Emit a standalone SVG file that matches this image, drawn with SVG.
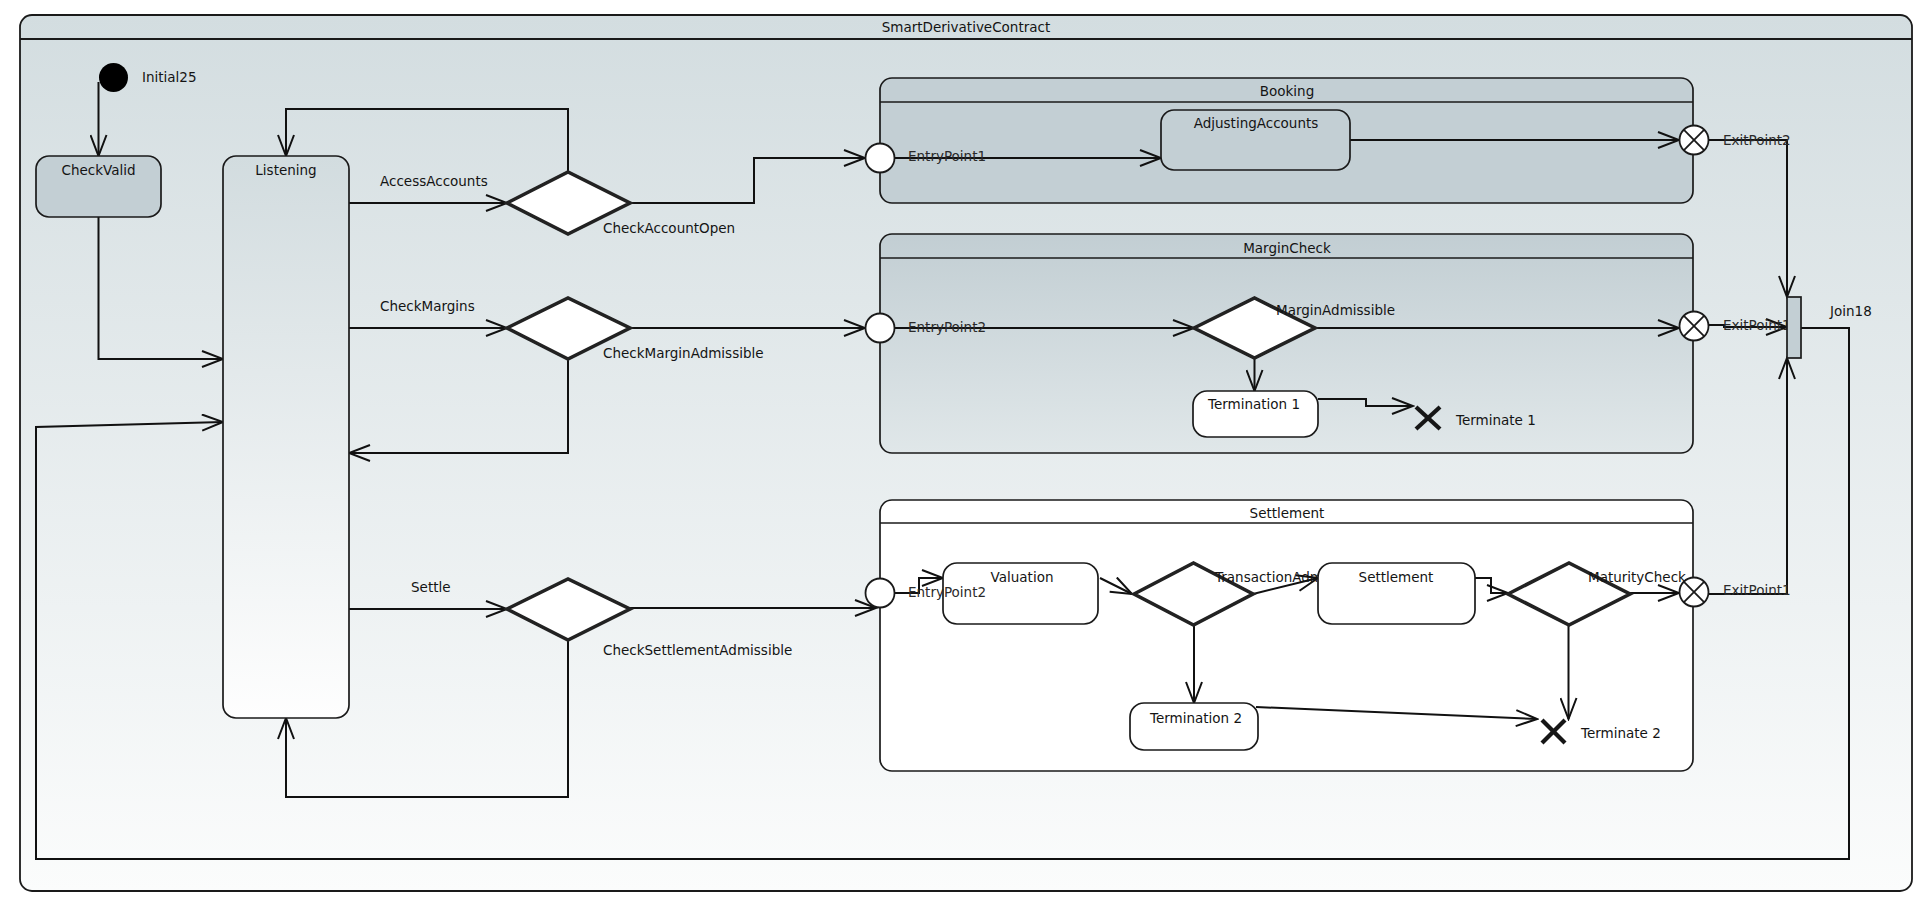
<svg xmlns="http://www.w3.org/2000/svg" width="1930" height="921" viewBox="0 0 1930 921">
  <defs>
    <style>
      text { font-family: "DejaVu Sans", "Liberation Sans", sans-serif; font-size: 13.5px; fill: #141414; }
      .mid { text-anchor: middle; }
      .port { fill: #2a2a2a; }
      .frame { stroke: #1a1a1a; stroke-width: 1.8; }
      .state { stroke: #1a1a1a; stroke-width: 1.7; }
      .blue { fill: #c3cfd4; }
      .white { fill: #ffffff; }
      .choice { fill: #ffffff; stroke: #202020; stroke-width: 3.6; stroke-linejoin: miter; filter: url(#soft); }
      .pt { fill: #ffffff; stroke: #1a1a1a; stroke-width: 1.8; }
      .cross { stroke: #1a1a1a; stroke-width: 1.8; }
      .kill { stroke: #151515; stroke-width: 4.2; filter: url(#soft); }
      .edge { fill: none; stroke: #111111; stroke-width: 2; marker-end: url(#arr); }
    </style>
    <linearGradient id="bgGrad" x1="0" y1="0" x2="0" y2="1">
      <stop offset="0" stop-color="#d3dde0"/>
      <stop offset="1" stop-color="#fbfcfc"/>
    </linearGradient>
    <linearGradient id="listenGrad" x1="0" y1="0" x2="0" y2="1">
      <stop offset="0" stop-color="#d2dcdf"/>
      <stop offset="1" stop-color="#fefefe"/>
    </linearGradient>
    <linearGradient id="marginGrad" x1="0" y1="0" x2="0" y2="1">
      <stop offset="0" stop-color="#c2ced3"/>
      <stop offset="1" stop-color="#e0e7e9"/>
    </linearGradient>
    <filter id="soft" x="-10%" y="-10%" width="120%" height="120%">
      <feGaussianBlur stdDeviation="0.6"/>
    </filter>
    <marker id="arr" viewBox="0 0 24 18" refX="22" refY="9" markerWidth="24" markerHeight="18" orient="auto" markerUnits="userSpaceOnUse">
      <path d="M1,1 L22,9 L1,17" fill="none" stroke="#111111" stroke-width="2"/>
    </marker>
  </defs>

  <!-- outer state machine frame -->
  <g id="SmartDerivativeContract">
    <rect class="frame" x="20" y="15" width="1892" height="876" rx="12" fill="url(#bgGrad)"/>
    <line class="frame" x1="20" y1="39" x2="1912" y2="39"/>
    <text class="mid" x="966" y="32">SmartDerivativeContract</text>
  </g>

  <!-- composite state backgrounds -->
  <g id="Booking">
    <rect class="state blue" x="880" y="78" width="813" height="125" rx="12"/>
    <line class="state" x1="880" y1="102" x2="1693" y2="102"/>
    <text class="mid" x="1287" y="96">Booking</text>
  </g>
  <g id="MarginCheck">
    <rect class="state" x="880" y="234" width="813" height="219" rx="12" fill="url(#marginGrad)"/>
    <line class="state" x1="880" y1="258" x2="1693" y2="258"/>
    <text class="mid" x="1287" y="253">MarginCheck</text>
  </g>
  <g id="Settlement">
    <rect class="state white" x="880" y="500" width="813" height="271" rx="12"/>
    <line class="state" x1="880" y1="523" x2="1693" y2="523"/>
    <text class="mid" x="1287" y="518">Settlement</text>
  </g>

  <!-- transitions -->
  <g id="connectors">
    <path class="edge" d="M98.5,82 V156"/>
    <path class="edge" d="M98.5,217 V359 H223"/>
    <path class="edge" d="M349,203 H507"/>
    <path class="edge" d="M568,172 V109 H286 V156"/>
    <path class="edge" d="M630,203 H754 V158 H865"/>
    <path class="edge" d="M349,328 H507"/>
    <path class="edge" d="M568,359 V453 H349"/>
    <path class="edge" d="M630,328 H865"/>
    <path class="edge" d="M349,609 H507"/>
    <path class="edge" d="M568,640 V797 H286 V718"/>
    <path class="edge" d="M630,608 H876"/>
    <path class="edge" d="M895,158 H1161"/>
    <path class="edge" d="M1350,140 H1679"/>
    <path class="edge" d="M1709,140 H1787 V297"/>
    <path class="edge" d="M895,328 H1194"/>
    <path class="edge" d="M1315,328 H1679"/>
    <path class="edge" d="M1709,325 H1724 V327 H1787"/>
    <path class="edge" d="M1254.5,358 V391"/>
    <path class="edge" d="M1318,399 H1366 V406 H1413"/>
    <path class="edge" d="M895,593 H919 V578 H943"/>
    <path class="edge" d="M1100,578 L1132,594"/>
    <path class="edge" d="M1253,594 L1318,578"/>
    <path class="edge" d="M1475,578 H1491 V593 H1508"/>
    <path class="edge" d="M1630,593 H1679"/>
    <path class="edge" d="M1709,594 H1787 V358"/>
    <path class="edge" d="M1194,625 V703"/>
    <path class="edge" d="M1568.5,625 V719"/>
    <path class="edge" d="M1256,707 L1537,719"/>
    <path class="edge" d="M1801,328 H1849 V859 H36 V427 L223,422"/>
  </g>

  <!-- top level nodes -->
  <g id="Initial25">
    <circle cx="113.5" cy="77.5" r="14.5" fill="#000000"/>
    <text x="142" y="82">Initial25</text>
  </g>
  <g id="CheckValid">
    <rect class="state blue" x="36" y="156" width="125" height="61" rx="13"/>
    <text class="mid" x="98.5" y="175">CheckValid</text>
  </g>
  <g id="Listening">
    <rect class="state" x="223" y="156" width="126" height="562" rx="13" fill="url(#listenGrad)"/>
    <text class="mid" x="286" y="175">Listening</text>
  </g>
  <g id="CheckAccountOpen">
    <polygon class="choice" points="507,203 568,172 630,203 568,234"/>
    <text x="603" y="233">CheckAccountOpen</text>
  </g>
  <g id="CheckMarginAdmissible">
    <polygon class="choice" points="507,328 568,298 630,328 568,359"/>
    <text x="603" y="358">CheckMarginAdmissible</text>
  </g>
  <g id="CheckSettlementAdmissible">
    <polygon class="choice" points="507,609 568,579 630,609 568,640"/>
    <text x="603" y="655">CheckSettlementAdmissible</text>
  </g>
  <g id="transitionLabels">
    <text x="380" y="186">AccessAccounts</text>
    <text x="380" y="311">CheckMargins</text>
    <text x="411" y="592">Settle</text>
  </g>

  <!-- Booking contents -->
  <g id="EntryPoint1">
    <circle class="pt" cx="880" cy="158" r="14.5"/>
    <text class="port" x="908" y="161">EntryPoint1</text>
  </g>
  <g id="AdjustingAccounts">
    <rect class="state blue" x="1161" y="110" width="189" height="60" rx="13"/>
    <text class="mid" x="1256" y="128">AdjustingAccounts</text>
  </g>
  <g id="ExitPoint2">
    <circle class="pt" cx="1694" cy="140" r="14.5"/>
    <line class="cross" x1="1683.7" y1="129.7" x2="1704.3" y2="150.3"/>
    <line class="cross" x1="1704.3" y1="129.7" x2="1683.7" y2="150.3"/>
    <text class="port" x="1723" y="145">ExitPoint2</text>
  </g>

  <!-- MarginCheck contents -->
  <g id="MarginCheck_EntryPoint2">
    <circle class="pt" cx="880" cy="328" r="14.5"/>
    <text class="port" x="908" y="332">EntryPoint2</text>
  </g>
  <g id="MarginAdmissible">
    <polygon class="choice" points="1194,328 1254.5,298 1315,328 1254.5,358"/>
    <text x="1276" y="315">MarginAdmissible</text>
  </g>
  <g id="Termination1">
    <rect class="state white" x="1193" y="391" width="125" height="46" rx="14"/>
    <text class="mid" x="1254" y="409">Termination 1</text>
  </g>
  <g id="Terminate1">
    <line class="kill" x1="1416" y1="407" x2="1440" y2="429"/>
    <line class="kill" x1="1440" y1="407" x2="1416" y2="429"/>
    <text x="1456" y="425">Terminate 1</text>
  </g>
  <g id="MarginCheck_ExitPoint1">
    <circle class="pt" cx="1694" cy="326" r="14.5"/>
    <line class="cross" x1="1683.7" y1="315.7" x2="1704.3" y2="336.3"/>
    <line class="cross" x1="1704.3" y1="315.7" x2="1683.7" y2="336.3"/>
    <text class="port" x="1723" y="330">ExitPoint1</text>
  </g>

  <!-- Settlement contents -->
  <g id="Valuation">
    <rect class="state white" x="943" y="563" width="155" height="61" rx="14"/>
    <text class="mid" x="1022" y="582">Valuation</text>
  </g>
  <g id="Settlement_EntryPoint2">
    <circle class="pt" cx="880" cy="593" r="14.5"/>
    <text class="port" x="908" y="597">EntryPoint2</text>
  </g>
  <g id="TransactionAdmissible">
    <polygon class="choice" points="1134,594 1193.5,563 1253,594 1193.5,625"/>
    <text x="1215" y="582">TransactionAdmissible</text>
  </g>
  <g id="SettlementState">
    <rect class="state white" x="1318" y="563" width="157" height="61" rx="14"/>
    <text class="mid" x="1396" y="582">Settlement</text>
  </g>
  <g id="MaturityCheck">
    <polygon class="choice" points="1508,594 1569,563 1630,594 1569,625"/>
    <text x="1588" y="582">MaturityCheck</text>
  </g>
  <g id="Termination2">
    <rect class="state white" x="1130" y="703" width="128" height="47" rx="14"/>
    <text class="mid" x="1196" y="723">Termination 2</text>
  </g>
  <g id="Terminate2">
    <line class="kill" x1="1542" y1="720" x2="1565" y2="743"/>
    <line class="kill" x1="1565" y1="720" x2="1542" y2="743"/>
    <text x="1581" y="738">Terminate 2</text>
  </g>
  <g id="Settlement_ExitPoint1">
    <circle class="pt" cx="1694" cy="592" r="14.5"/>
    <line class="cross" x1="1683.7" y1="581.7" x2="1704.3" y2="602.3"/>
    <line class="cross" x1="1704.3" y1="581.7" x2="1683.7" y2="602.3"/>
    <text class="port" x="1723" y="595">ExitPoint1</text>
  </g>

  <!-- join bar -->
  <g id="Join18">
    <rect class="state blue" x="1787" y="297" width="14" height="61"/>
    <text x="1830" y="316">Join18</text>
  </g>
</svg>
